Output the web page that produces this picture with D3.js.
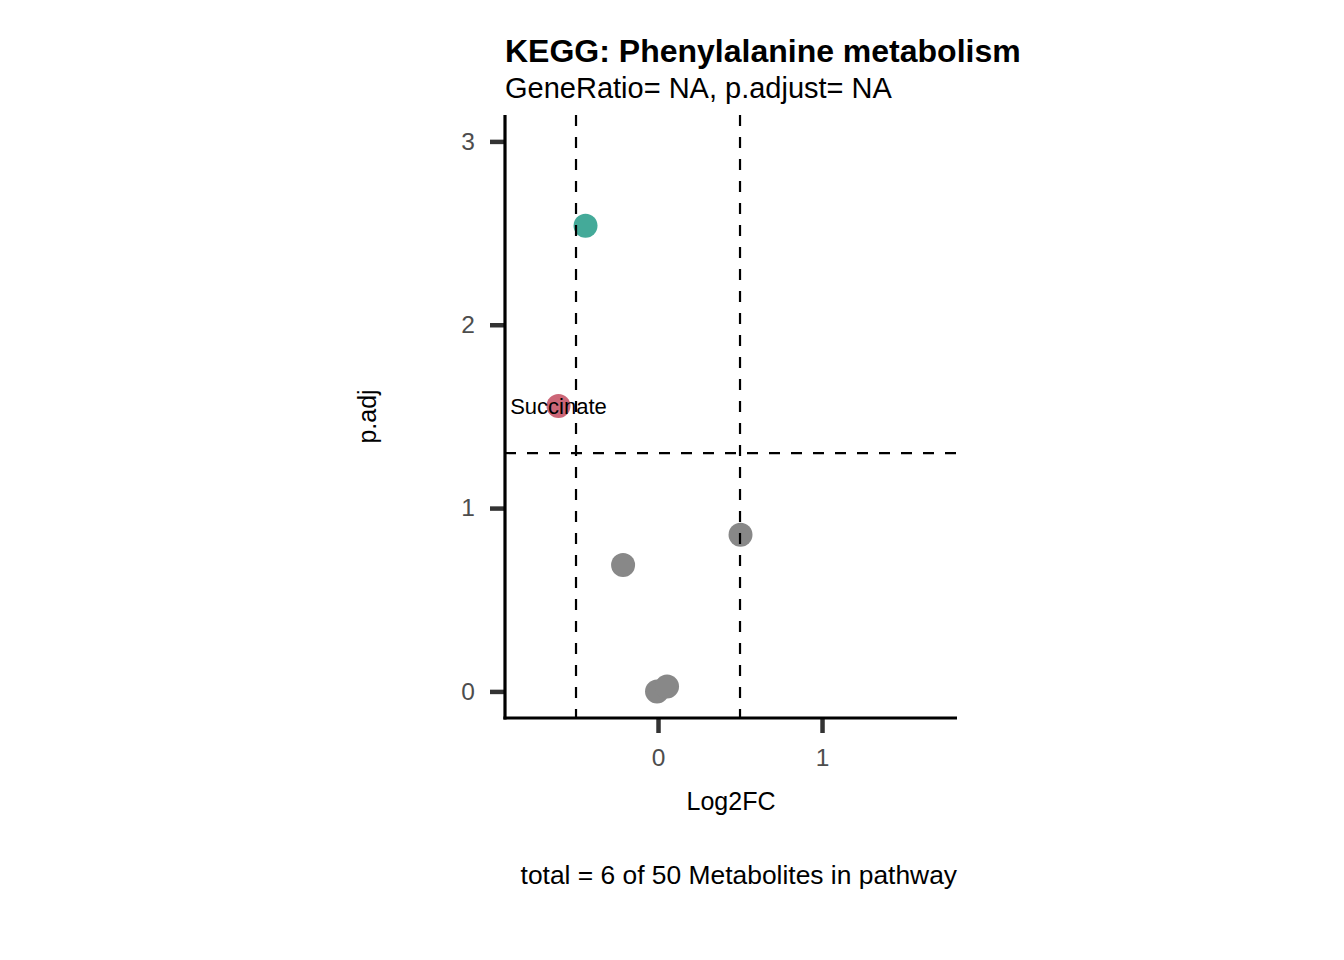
<!DOCTYPE html>
<html>
<head>
<meta charset="utf-8">
<script src="https://cdn.jsdelivr.net/npm/d3@7"></script>
<style>
  body { margin: 0; background: #fff; }
  svg { display: block; font-family: "Liberation Sans", Arial, sans-serif; }
</style>
</head>
<body>
<svg id="chart" width="1344" height="960"></svg>
<script>
// metabolites in pathway (Log2FC vs -log10 p.adj)
const names  = ["m1", "Succinate", "m3", "m4", "m5", "m6"]
const log2fc = [-0.442, -0.607, 0.503, -0.213, -0.006, 0.055]
const padj   = [2.54, 1.557, 0.855, 0.69, 0.0, 0.027]
const groups = ["down", "up", "ns", "ns", "ns", "ns"]
const labels = ["", "Succinate", "", "", "", ""]

const xTicks = [0, 1]
const yTicks = [0, 1, 2, 3]
const fcCut = [-0.5, 0.5]
const pCut = 1.3

const colors = { down: "#44AA99", up: "#CC6677", ns: "#888888" }

let points = names.map((n, i) => ({ name: n, x: log2fc[i], y: padj[i], group: groups[i], label: labels[i] }))

const svg = d3.select("#chart")
const margin = { left: 505, right: 1344 - 957, top: 115, bottom: 960 - 718 }
const width = 1344 - margin.left - margin.right
const height = 960 - margin.top - margin.bottom

const x = d3.scaleLinear().domain([-0.933, 1.823]).range([0, width])
const y = d3.scaleLinear().domain([-0.145, 3.144]).range([height, 0])

const g = svg.append("g").attr("transform", `translate(${margin.left},${margin.top})`)

// points first, guide lines drawn over them
g.selectAll("circle.pt")
  .data(points)
  .join("circle")
  .attr("class", "pt")
  .attr("cx", d => x(d.x))
  .attr("cy", d => y(d.y))
  .attr("r", 12)
  .attr("fill", d => colors[d.group])

g.selectAll("line.vcut")
  .data(fcCut)
  .join("line")
  .attr("class", "vcut")
  .attr("x1", d => x(d)).attr("x2", d => x(d))
  .attr("y1", 0).attr("y2", height)
  .attr("stroke", "#000")
  .attr("stroke-width", 2.2)
  .attr("stroke-dasharray", "11,11")

g.append("line")
  .attr("x1", 0).attr("x2", width)
  .attr("y1", y(pCut)).attr("y2", y(pCut))
  .attr("stroke", "#000")
  .attr("stroke-width", 2.2)
  .attr("stroke-dasharray", "11,11")

g.selectAll("text.lbl")
  .data(points.filter(d => d.label))
  .join("text")
  .attr("class", "lbl")
  .attr("x", d => x(d.x))
  .attr("y", d => y(d.y))
  .attr("dy", "0.36em")
  .attr("text-anchor", "middle")
  .attr("font-size", 22)
  .attr("fill", "#000")
  .text(d => d.label)

// axes
const xAxis = g.append("g")
  .attr("transform", `translate(0,${height})`)
  .call(d3.axisBottom(x).tickValues(xTicks).tickSize(15).tickPadding(16).tickFormat(d3.format("d")))
const yAxis = g.append("g")
  .call(d3.axisLeft(y).tickValues(yTicks).tickSize(15).tickPadding(15).tickFormat(d3.format("d")))

for (const ax of [xAxis, yAxis]) {
  ax.select(".domain").remove()
  ax.selectAll(".tick line").attr("stroke", "#333333").attr("stroke-width", 4.5)
  ax.selectAll(".tick text").attr("fill", "#4D4D4D").attr("font-size", 24.5)
    .attr("font-family", "Liberation Sans, Arial, sans-serif")
}

g.append("line").attr("x1", 0).attr("x2", 0).attr("y1", 0).attr("y2", height + 1.6)
  .attr("stroke", "#000").attr("stroke-width", 3.2)
g.append("line").attr("x1", -1.6).attr("x2", width).attr("y1", height).attr("y2", height)
  .attr("stroke", "#000").attr("stroke-width", 3.2)

// titles
svg.append("text")
  .attr("x", margin.left).attr("y", 62)
  .attr("font-size", 32).attr("font-weight", "bold")
  .text("KEGG: Phenylalanine metabolism")
svg.append("text")
  .attr("x", margin.left).attr("y", 98)
  .attr("font-size", 29)
  .text("GeneRatio= NA, p.adjust= NA")

svg.append("text")
  .attr("x", margin.left + width / 2).attr("y", 810)
  .attr("text-anchor", "middle").attr("font-size", 25)
  .text("Log2FC")
svg.append("text")
  .attr("transform", `translate(376,${margin.top + height / 2}) rotate(-90)`)
  .attr("text-anchor", "middle").attr("font-size", 25)
  .text("p.adj")

svg.append("text")
  .attr("x", margin.left + width).attr("y", 884)
  .attr("text-anchor", "end").attr("font-size", 26.4)
  .text("total = 6 of 50 Metabolites in pathway")
</script>
</body>
</html>
